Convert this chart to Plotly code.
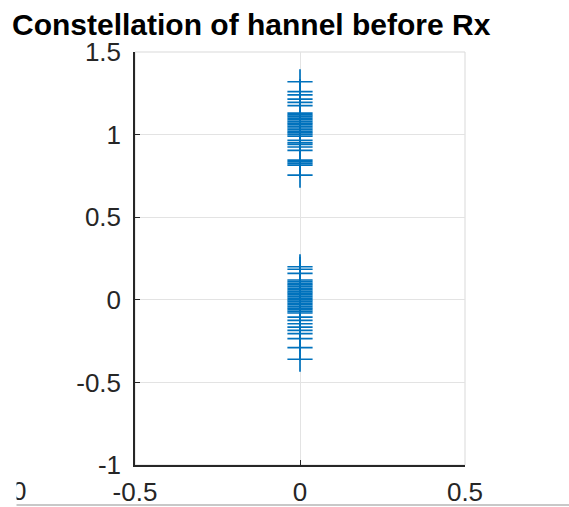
import plotly.graph_objects as go

# Data
upper_y = [1.32, 1.26, 1.24, 1.215, 1.195, 1.175, 1.13, 1.12, 1.11, 1.10, 1.09,
           1.08, 1.07, 1.06, 1.05, 1.04, 1.03, 1.02, 1.01, 1.00, 0.99, 0.965,
           0.95, 0.94, 0.925, 0.905, 0.845, 0.835, 0.825, 0.815, 0.755]
upper_x = [0.0, 0.0, 0.0, 0.0, 0.0, 0.0, 0.0, 0.0, 0.0, 0.0, 0.0,
           0.0, 0.0, 0.0, 0.0, 0.0, 0.0, 0.0, 0.0, 0.0, 0.0, 0.0,
           0.0, 0.0, 0.0, 0.0, 0.0, 0.0, 0.0, 0.0, 0.0]
lower_y = [0.20, 0.185, 0.16, 0.12, 0.11, 0.10, 0.09, 0.08, 0.07, 0.06, 0.05,
           0.04, 0.03, 0.02, 0.01, 0.0, -0.01, -0.02, -0.03, -0.04, -0.05,
           -0.06, -0.07, -0.08, -0.105, -0.125, -0.145, -0.165, -0.185,
           -0.205, -0.235, -0.29, -0.36]
lower_x = [0.0, 0.0, 0.0, 0.0, 0.0, 0.0, 0.0, 0.0, 0.0, 0.0, 0.0,
           0.0, 0.0, 0.0, 0.0, 0.0, 0.0, 0.0, 0.0, 0.0, 0.0,
           0.0, 0.0, 0.0, 0.0, 0.0, 0.0, 0.0, 0.0,
           0.0, 0.0, 0.0, 0.0]

x_ticks = [-0.5, 0, 0.5]
x_tick_labels = ["-0.5", "0", "0.5"]
y_ticks = [-1, -0.5, 0, 0.5, 1, 1.5]
y_tick_labels = ["-1", "-0.5", "0", "0.5", "1", "1.5"]
title_text = "Constellation of hannel before Rx"

W, H = 569, 507
L, R, T, B = 135, 465, 52, 465
pw, ph = R - L, B - T

blue = "#0072BD"
axis_col = "#262626"
grid_col = "#e3e3e3"
font_fam = "Liberation Sans, Arial, sans-serif"

fig = go.Figure()
fig.add_trace(go.Scatter(
    x=upper_x + lower_x, y=upper_y + lower_y, mode="markers",
    marker=dict(symbol="cross-thin-open", size=18, color=blue,
                line=dict(color=blue, width=1.7)),
    showlegend=False, hoverinfo="skip"))

def px_x(p):
    return (p - L) / pw

def px_y(p):
    return (B - p) / ph

fig.update_layout(
    width=W, height=H,
    margin=dict(l=L, r=W - R, t=T, b=H - B, pad=0, autoexpand=False),
    paper_bgcolor="white", plot_bgcolor="white",
    font=dict(family=font_fam, color=axis_col),
    title=dict(text="<b>" + title_text + "</b>", font=dict(size=30, color="black", family=font_fam),
               x=12 / W, xanchor="left", xref="container",
               y=1 - 14 / H, yanchor="top", yref="container"),
    xaxis=dict(range=[-0.5, 0.5], tickvals=x_ticks, ticktext=x_tick_labels,
               showgrid=True, gridcolor=grid_col, gridwidth=1, zeroline=False,
               showline=True, linecolor=axis_col, linewidth=1.5, automargin=False,
               ticks="inside", ticklen=5, tickcolor=axis_col, tickwidth=1,
               tickfont=dict(size=26, color=axis_col), ticklabelstandoff=3),
    yaxis=dict(range=[-1, 1.5], tickvals=y_ticks, ticktext=y_tick_labels,
               showgrid=True, gridcolor=grid_col, gridwidth=1, zeroline=False,
               showline=True, linecolor=axis_col, linewidth=1.5, automargin=False,
               ticks="inside", ticklen=5, tickcolor=axis_col, tickwidth=1,
               tickfont=dict(size=26, color=axis_col), ticklabelstandoff=7),
    shapes=[
        dict(type="rect", xref="paper", yref="paper", x0=0, x1=1, y0=0, y1=1,
             line=dict(color="#d9d9d9", width=1), layer="below"),
        dict(type="line", xref="paper", yref="paper", x0=px_x(15), x1=px_x(569),
             y0=px_y(505), y1=px_y(505), line=dict(color="#c8c8c8", width=2)),
    ],
    annotations=[
        dict(text="0", xref="paper", yref="paper", x=px_x(28), y=px_y(491),
             xanchor="right", yanchor="middle", showarrow=False,
             font=dict(size=26, color=axis_col, family=font_fam)),
        dict(text=" ", xref="paper", yref="paper", x=px_x(0), y=px_y(491),
             xanchor="left", yanchor="middle", showarrow=False, width=15, height=30,
             bgcolor="white", borderpad=0),
    ],
)

fig.write_html("out.html")
